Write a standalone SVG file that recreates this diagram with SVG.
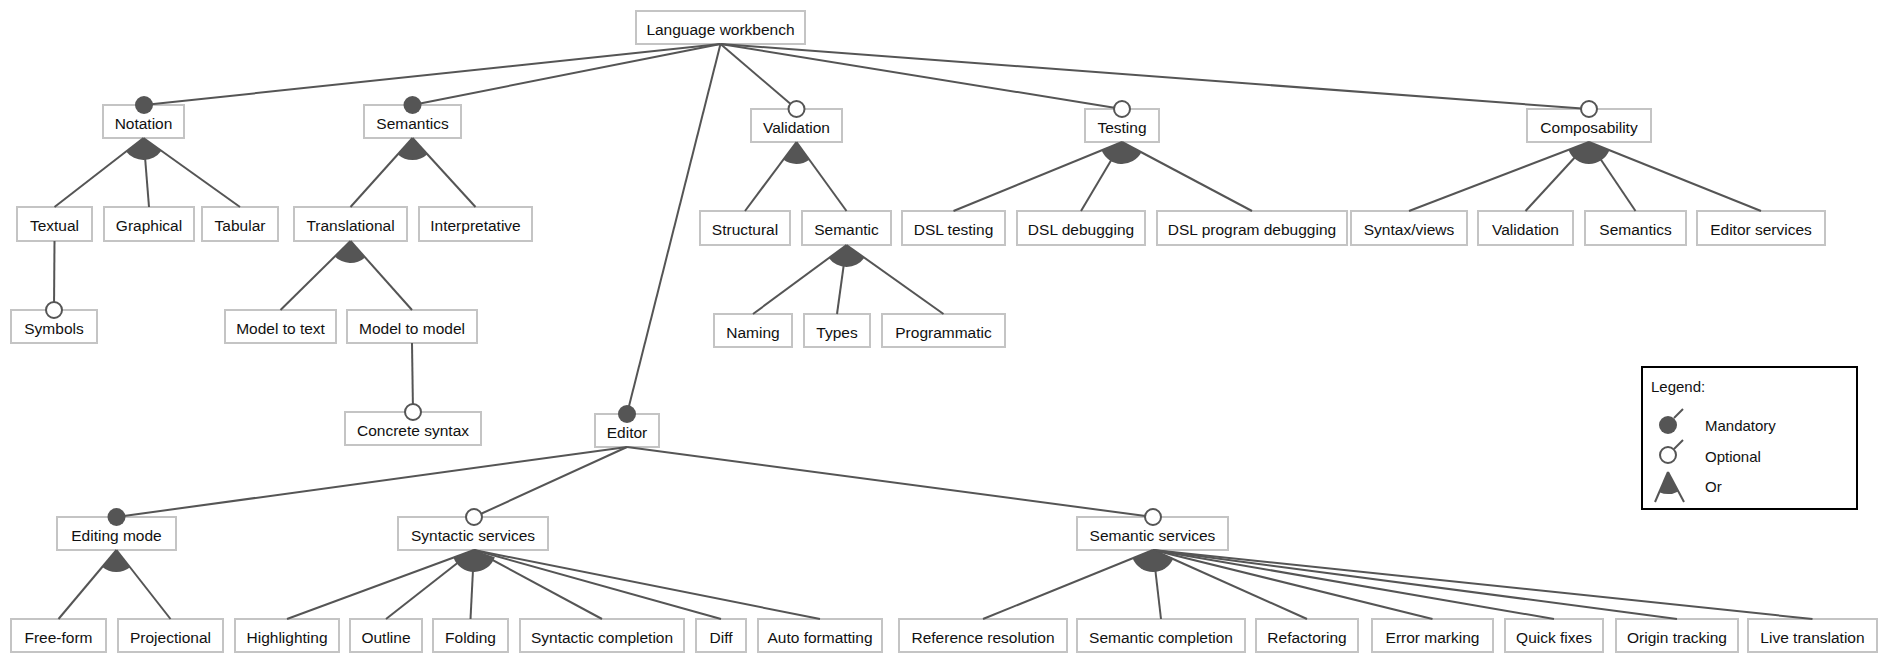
<svg xmlns="http://www.w3.org/2000/svg" width="1892" height="653" viewBox="0 0 1892 653">
<style>
.box{fill:#fff;stroke:#c4c4c4;stroke-width:2}
.lbl{font-family:"Liberation Sans",Arial,sans-serif;font-size:15.5px;fill:#111;text-anchor:middle}
.ln{stroke:#555;stroke-width:2;fill:none}
.man{fill:#555;stroke:none}
.opt{fill:#fff;stroke:#555;stroke-width:2}
.or{fill:#555;stroke:none}
.leg{font-family:"Liberation Sans",Arial,sans-serif;font-size:15px;fill:#111}
</style>
<rect x="0" y="0" width="1892" height="653" fill="#fff"/>
<g id="nodes">
<g id="n-lw"><rect class="box" x="636" y="11" width="169" height="33"/><text class="lbl" x="720.5" y="34.5">Language workbench</text></g>
<g id="n-notation"><rect class="box" x="103" y="105" width="81" height="33"/><text class="lbl" x="143.5" y="128.5">Notation</text></g>
<g id="n-semantics"><rect class="box" x="364" y="105" width="97" height="33"/><text class="lbl" x="412.5" y="128.5">Semantics</text></g>
<g id="n-textual"><rect class="box" x="17" y="207" width="75" height="34"/><text class="lbl" x="54.5" y="230.5">Textual</text></g>
<g id="n-graphical"><rect class="box" x="104" y="207" width="90" height="34"/><text class="lbl" x="149" y="230.5">Graphical</text></g>
<g id="n-tabular"><rect class="box" x="202" y="207" width="76" height="34"/><text class="lbl" x="240" y="230.5">Tabular</text></g>
<g id="n-translational"><rect class="box" x="294" y="207" width="113" height="34"/><text class="lbl" x="350.5" y="230.5">Translational</text></g>
<g id="n-interpretative"><rect class="box" x="419" y="207" width="113" height="34"/><text class="lbl" x="475.5" y="230.5">Interpretative</text></g>
<g id="n-symbols"><rect class="box" x="11" y="310" width="86" height="33"/><text class="lbl" x="54" y="333.5">Symbols</text></g>
<g id="n-m2t"><rect class="box" x="225" y="310" width="111" height="33"/><text class="lbl" x="280.5" y="333.5">Model to text</text></g>
<g id="n-m2m"><rect class="box" x="347" y="310" width="130" height="33"/><text class="lbl" x="412" y="333.5">Model to model</text></g>
<g id="n-concrete"><rect class="box" x="345" y="412" width="136" height="33"/><text class="lbl" x="413" y="435.5">Concrete syntax</text></g>
<g id="n-validation"><rect class="box" x="751" y="109" width="91" height="33"/><text class="lbl" x="796.5" y="132.5">Validation</text></g>
<g id="n-testing"><rect class="box" x="1085" y="109" width="74" height="33"/><text class="lbl" x="1122" y="132.5">Testing</text></g>
<g id="n-composability"><rect class="box" x="1527" y="109" width="124" height="33"/><text class="lbl" x="1589" y="132.5">Composability</text></g>
<g id="n-structural"><rect class="box" x="700" y="211" width="90" height="34"/><text class="lbl" x="745" y="234.5">Structural</text></g>
<g id="n-semantic"><rect class="box" x="802" y="211" width="89" height="34"/><text class="lbl" x="846.5" y="234.5">Semantic</text></g>
<g id="n-dsltesting"><rect class="box" x="902" y="211" width="103" height="34"/><text class="lbl" x="953.5" y="234.5">DSL testing</text></g>
<g id="n-dsldebugging"><rect class="box" x="1017" y="211" width="128" height="34"/><text class="lbl" x="1081" y="234.5">DSL debugging</text></g>
<g id="n-dslprogdebugging"><rect class="box" x="1157" y="211" width="190" height="34"/><text class="lbl" x="1252" y="234.5">DSL program debugging</text></g>
<g id="n-syntaxviews"><rect class="box" x="1351" y="211" width="116" height="34"/><text class="lbl" x="1409" y="234.5">Syntax/views</text></g>
<g id="n-validation2"><rect class="box" x="1478" y="211" width="95" height="34"/><text class="lbl" x="1525.5" y="234.5">Validation</text></g>
<g id="n-semantics2"><rect class="box" x="1585" y="211" width="101" height="34"/><text class="lbl" x="1635.5" y="234.5">Semantics</text></g>
<g id="n-editorservices"><rect class="box" x="1697" y="211" width="128" height="34"/><text class="lbl" x="1761" y="234.5">Editor services</text></g>
<g id="n-naming"><rect class="box" x="714" y="314" width="78" height="33"/><text class="lbl" x="753" y="337.5">Naming</text></g>
<g id="n-types"><rect class="box" x="804" y="314" width="66" height="33"/><text class="lbl" x="837" y="337.5">Types</text></g>
<g id="n-programmatic"><rect class="box" x="882" y="314" width="123" height="33"/><text class="lbl" x="943.5" y="337.5">Programmatic</text></g>
<g id="n-editor"><rect class="box" x="595" y="414" width="64" height="33"/><text class="lbl" x="627" y="437.5">Editor</text></g>
<g id="n-editingmode"><rect class="box" x="57" y="517" width="119" height="33"/><text class="lbl" x="116.5" y="540.5">Editing mode</text></g>
<g id="n-syntacticservices"><rect class="box" x="398" y="517" width="150" height="33"/><text class="lbl" x="473" y="540.5">Syntactic services</text></g>
<g id="n-semanticservices"><rect class="box" x="1077" y="517" width="151" height="33"/><text class="lbl" x="1152.5" y="540.5">Semantic services</text></g>
<g id="n-freeform"><rect class="box" x="11" y="619" width="95" height="33"/><text class="lbl" x="58.5" y="642.5">Free-form</text></g>
<g id="n-projectional"><rect class="box" x="118" y="619" width="105" height="33"/><text class="lbl" x="170.5" y="642.5">Projectional</text></g>
<g id="n-highlighting"><rect class="box" x="235" y="619" width="104" height="33"/><text class="lbl" x="287" y="642.5">Highlighting</text></g>
<g id="n-outline"><rect class="box" x="350" y="619" width="72" height="33"/><text class="lbl" x="386" y="642.5">Outline</text></g>
<g id="n-folding"><rect class="box" x="433" y="619" width="75" height="33"/><text class="lbl" x="470.5" y="642.5">Folding</text></g>
<g id="n-syntcompletion"><rect class="box" x="520" y="619" width="164" height="33"/><text class="lbl" x="602" y="642.5">Syntactic completion</text></g>
<g id="n-diff"><rect class="box" x="696" y="619" width="50" height="33"/><text class="lbl" x="721" y="642.5">Diff</text></g>
<g id="n-autoformatting"><rect class="box" x="758" y="619" width="124" height="33"/><text class="lbl" x="820" y="642.5">Auto formatting</text></g>
<g id="n-refres"><rect class="box" x="899" y="619" width="168" height="33"/><text class="lbl" x="983" y="642.5">Reference resolution</text></g>
<g id="n-semcompletion"><rect class="box" x="1077" y="619" width="168" height="33"/><text class="lbl" x="1161" y="642.5">Semantic completion</text></g>
<g id="n-refactoring"><rect class="box" x="1256" y="619" width="102" height="33"/><text class="lbl" x="1307" y="642.5">Refactoring</text></g>
<g id="n-errormarking"><rect class="box" x="1372" y="619" width="121" height="33"/><text class="lbl" x="1432.5" y="642.5">Error marking</text></g>
<g id="n-quickfixes"><rect class="box" x="1505" y="619" width="98" height="33"/><text class="lbl" x="1554" y="642.5">Quick fixes</text></g>
<g id="n-origintracking"><rect class="box" x="1616" y="619" width="122" height="33"/><text class="lbl" x="1677" y="642.5">Origin tracking</text></g>
<g id="n-livetranslation"><rect class="box" x="1748" y="619" width="129" height="33"/><text class="lbl" x="1812.5" y="642.5">Live translation</text></g>
</g>
<g id="connectors">
<g class="ln">
<line x1="720.5" y1="44" x2="144" y2="105"/>
<line x1="720.5" y1="44" x2="412.5" y2="105"/>
<line x1="720.5" y1="44" x2="796.5" y2="109"/>
<line x1="720.5" y1="44" x2="1122" y2="109"/>
<line x1="720.5" y1="44" x2="1589" y2="109"/>
<line x1="720.5" y1="44" x2="627" y2="414"/>
<line x1="143.5" y1="138" x2="54.5" y2="207"/>
<line x1="143.5" y1="138" x2="149" y2="207"/>
<line x1="143.5" y1="138" x2="240" y2="207"/>
<line x1="412.5" y1="138" x2="350.5" y2="207"/>
<line x1="412.5" y1="138" x2="475.5" y2="207"/>
<line x1="54.5" y1="241" x2="54" y2="310"/>
<line x1="350.5" y1="241" x2="280.5" y2="310"/>
<line x1="350.5" y1="241" x2="412" y2="310"/>
<line x1="412" y1="343" x2="413" y2="412"/>
<line x1="796.5" y1="142" x2="745" y2="211"/>
<line x1="796.5" y1="142" x2="846.5" y2="211"/>
<line x1="1122" y1="142" x2="953.5" y2="211"/>
<line x1="1122" y1="142" x2="1081" y2="211"/>
<line x1="1122" y1="142" x2="1252" y2="211"/>
<line x1="1589" y1="142" x2="1409" y2="211"/>
<line x1="1589" y1="142" x2="1525.5" y2="211"/>
<line x1="1589" y1="142" x2="1635.5" y2="211"/>
<line x1="1589" y1="142" x2="1761" y2="211"/>
<line x1="846.5" y1="245" x2="753" y2="314"/>
<line x1="846.5" y1="245" x2="837" y2="314"/>
<line x1="846.5" y1="245" x2="943.5" y2="314"/>
<line x1="627" y1="447" x2="116.5" y2="517"/>
<line x1="627" y1="447" x2="474" y2="517"/>
<line x1="627" y1="447" x2="1153" y2="517"/>
<line x1="116.5" y1="550" x2="58.5" y2="619"/>
<line x1="116.5" y1="550" x2="170.5" y2="619"/>
<line x1="474" y1="550" x2="287" y2="619"/>
<line x1="474" y1="550" x2="386" y2="619"/>
<line x1="474" y1="550" x2="470.5" y2="619"/>
<line x1="474" y1="550" x2="602" y2="619"/>
<line x1="474" y1="550" x2="721" y2="619"/>
<line x1="474" y1="550" x2="820" y2="619"/>
<line x1="1153" y1="550" x2="983" y2="619"/>
<line x1="1153" y1="550" x2="1161" y2="619"/>
<line x1="1153" y1="550" x2="1307" y2="619"/>
<line x1="1153" y1="550" x2="1432.5" y2="619"/>
<line x1="1153" y1="550" x2="1554" y2="619"/>
<line x1="1153" y1="550" x2="1677" y2="619"/>
<line x1="1153" y1="550" x2="1812.5" y2="619"/>
</g>
<path class="or" d="M143.5 138 L126.1 151.5 A22 22 0 0 0 161.4 150.8 Z"/>
<path class="or" d="M412.5 138 L397.9 154.4 A22 22 0 0 0 427.4 154.2 Z"/>
<path class="or" d="M350.5 241 L334.8 256.4 A22 22 0 0 0 365.1 257.4 Z"/>
<path class="or" d="M796.5 142 L783.3 159.6 A22 22 0 0 0 809.4 159.8 Z"/>
<path class="or" d="M1122 142 L1101.6 150.3 A22 22 0 0 0 1141.4 152.3 Z"/>
<path class="or" d="M1589 142 L1568.5 149.9 A22 22 0 0 0 1609.4 150.2 Z"/>
<path class="or" d="M846.5 245 L828.8 258 A22 22 0 0 0 864.4 257.7 Z"/>
<path class="or" d="M116.5 550 L102.4 566.9 A22 22 0 0 0 130.1 567.3 Z"/>
<path class="or" d="M474 550 L453.4 557.6 A22 22 0 0 0 494.8 557.2 Z"/>
<path class="or" d="M1153 550 L1132.6 558.3 A22 22 0 0 0 1173.4 558.2 Z"/>
<circle class="man" cx="144" cy="105" r="9"/>
<circle class="man" cx="412.5" cy="105" r="9"/>
<circle class="man" cx="627" cy="414" r="9"/>
<circle class="man" cx="116.5" cy="517" r="9"/>
<circle class="opt" cx="796.5" cy="109" r="8"/>
<circle class="opt" cx="1122" cy="109" r="8"/>
<circle class="opt" cx="1589" cy="109" r="8"/>
<circle class="opt" cx="54" cy="310" r="8"/>
<circle class="opt" cx="413" cy="412" r="8"/>
<circle class="opt" cx="474" cy="517" r="8"/>
<circle class="opt" cx="1153" cy="517" r="8"/>
</g>
<g id="legend">
<rect x="1642" y="367" width="215" height="142" fill="#fff" stroke="#000" stroke-width="2"/>
<text class="leg" x="1651" y="392" font-size="14">Legend:</text>
<line class="ln" x1="1674" y1="418" x2="1683" y2="409"/>
<circle class="man" cx="1668" cy="425" r="9"/>
<text class="leg" x="1705" y="431">Mandatory</text>
<line class="ln" x1="1674" y1="449" x2="1683" y2="440"/>
<circle class="opt" cx="1668" cy="455" r="8"/>
<text class="leg" x="1705" y="462">Optional</text>
<path class="or" d="M1668 472 L1659.3 492.2 A22 22 0 0 0 1678.3 491.4 Z"/>
<line class="ln" x1="1668" y1="472" x2="1655" y2="502"/>
<line class="ln" x1="1668" y1="472" x2="1684" y2="502"/>
<text class="leg" x="1705" y="492">Or</text>
</g>
</svg>
